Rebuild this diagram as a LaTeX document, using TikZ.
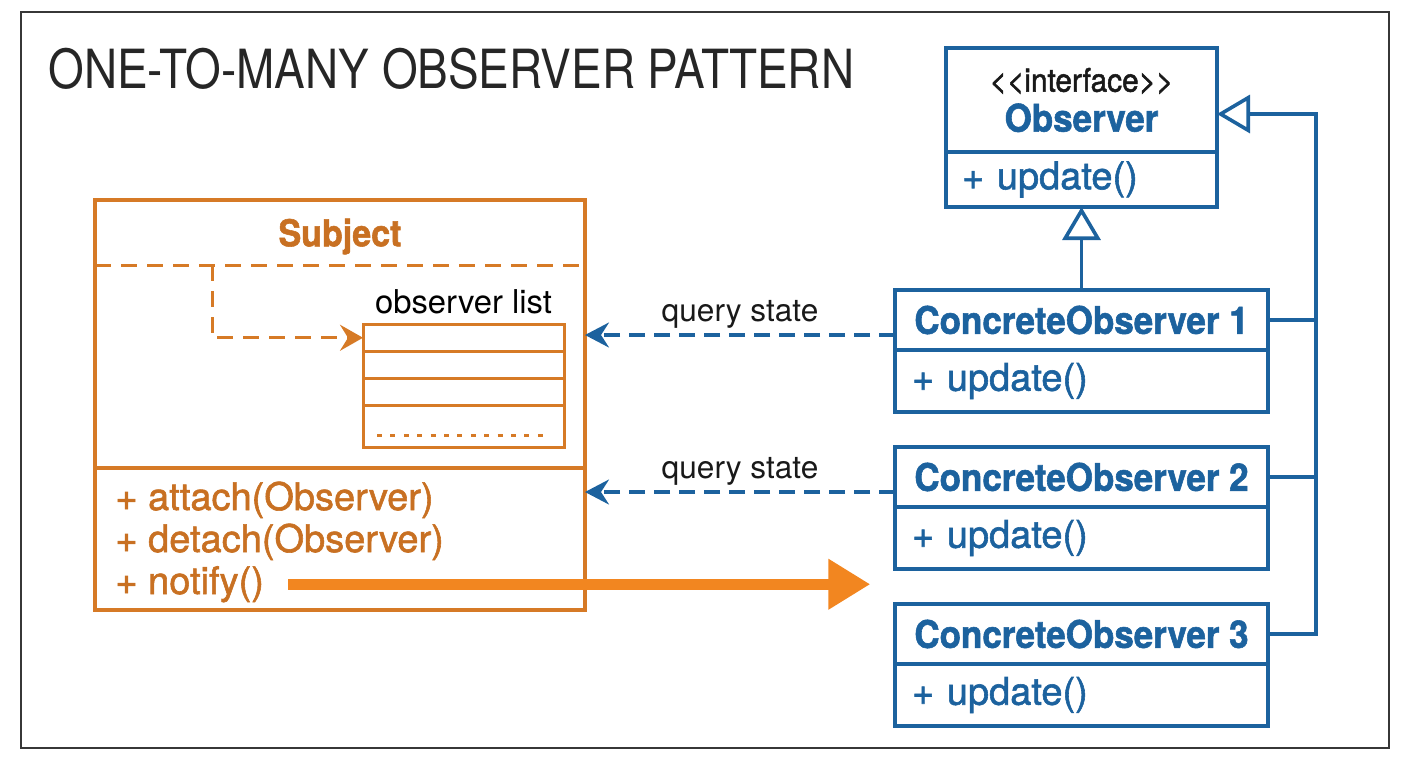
\documentclass[tikz,border=0pt]{standalone}
\usepackage{fontspec}
\setmainfont{TeX Gyre Heros}
\newfontfamily\titlefont{TeX Gyre Heros}[FakeStretch=0.85]
\newfontfamily\namefont{TeX Gyre Heros}[FakeStretch=0.92, FakeBold=1.5]
\newfontfamily\medfont{TeX Gyre Heros}[FakeBold=1.5]
\usepackage{tikz}
\usetikzlibrary{positioning,arrows.meta,calc}
\definecolor{subjorange}{RGB}{214,122,38}
\definecolor{subjtext}{RGB}{200,112,34}
\definecolor{notifyorange}{RGB}{242,134,32}
\definecolor{obsblue}{RGB}{28,98,158}
\definecolor{framegray}{RGB}{55,55,55}
\newcommand{\stereofont}{\mdseries\fontsize{16.2}{20}\selectfont\color{black!90}}
\tikzset{
  frame/.style={draw=framegray, line width=1pt},
  heading/.style={font=\titlefont\fontsize{27}{32}\selectfont, text=black!85, anchor=base west, inner sep=0pt},
  subjpart/.style={rectangle, minimum width=245pt, inner sep=0pt, outer sep=0pt},
  subjname/.style={subjpart, font=\namefont\bfseries\fontsize{18.5}{22}\selectfont, text=subjtext},
  subjline/.style={draw=subjorange, line width=1.8pt},
  subjdash/.style={draw=subjorange, line width=1.5pt, dash pattern=on 8pt off 5pt},
  ptrdash/.style={subjdash, -{Stealth[length=11.5pt,width=13pt,inset=4pt]}},
  method/.style={font=\medfont\fontsize{19}{22}\selectfont, text=subjtext, anchor=base west, inner sep=0pt},
  listrow/.style={draw=subjorange, line width=1.5pt, minimum width=100.5pt, inner sep=0pt, outer sep=0pt},
  listdots/.style={draw=subjorange, line width=1.5pt, dash pattern=on 2.5pt off 4.2pt},
  listlbl/.style={font=\fontsize{16.4}{20}\selectfont, inner sep=0pt},
  classhead/.style={draw=obsblue, line width=1.8pt, minimum width=186.5pt, minimum height=30pt,
                    inner sep=0pt, outer sep=0pt, font=\namefont\bfseries\fontsize{19}{22}\selectfont, text=obsblue},
  classbody/.style={classhead, minimum height=31pt, font=\medfont\fontsize{19}{22}\selectfont,
                    text width=169.5pt, inner xsep=8.5pt, align=left},
  ifhead/.style={classhead, minimum width=135.5pt, minimum height=52pt, align=center,
                 font=\namefont\bfseries\fontsize{19}{20}\selectfont},
  ifbody/.style={classbody, minimum width=135.5pt, minimum height=27.5pt, text width=119.5pt, inner xsep=8pt},
  blueline/.style={draw=obsblue, line width=1.8pt},
  realize/.style={blueline, -{Triangle[open, length=16.5pt, width=19pt]}},
  query/.style={draw=obsblue, line width=1.6pt, dash pattern=on 8pt off 4.5pt,
                -{Stealth[length=12pt,width=12.5pt,inset=4pt]}},
  qlbl/.style={above=2.7pt, font=\fontsize{15.8}{19}\selectfont, text=black!90, inner sep=0pt},
  notifyarrow/.style={draw=notifyorange, line width=5.75pt, -{Triangle[length=21pt,width=24pt]}}
}
\begin{document}
\begin{tikzpicture}[x=0.5pt, y=-0.5pt]
\useasboundingbox (0,0) rectangle (1408,768);
\draw[frame] (21,12) rectangle (1389,748);
\node[heading] (title) at (48,88) {ONE-TO-MANY OBSERVER PATTERN};

% subject class
\node[subjname, minimum height=32.5pt, text depth=0pt] (subjh) at (340,232.5) {Subject};
\node[subjpart, minimum height=101.5pt, below=0pt of subjh] (subja) {};
\node[subjpart, minimum height=71pt, below=0pt of subja] (subjm) {};
\draw[subjline] (subjh.north west) rectangle (subjm.south east);
\draw[subjline] (subjm.north west) -- (subjm.north east);
\draw[subjdash] (subjh.south west) -- (subjh.south east);
\node[method] (m1) at (115,510) {+ attach(Observer)};
\node[method] (m2) at (115,552) {+ detach(Observer)};
\node[method] (m3) at (115,594) {+ notify()};

% observer list
\node[listrow, minimum height=13.75pt] (r1) at (463.5,337.75) {};
\node[listrow, minimum height=13.5pt, below=0pt of r1] (r2) {};
\node[listrow, minimum height=13.25pt, below=0pt of r2] (r3) {};
\node[listrow, minimum height=21pt, below=0pt of r3] (r4) {};
\node[listlbl, above=5pt of r1] (listname) {observer list};
\draw[listdots] ([shift={(7pt,-4.5pt)}]r4.west) -- ([shift={(-7pt,-4.5pt)}]r4.east);
\coordinate (tap) at (212,265);
\draw[ptrdash] (tap) |- (r1.west);

% observer interface
\node[ifhead] (obs) at (1081.5,100) {{\stereofont <{}<interface>{}>}\\Observer};
\node[ifbody, below=0pt of obs] (obsm) {+ update()};

% concrete observers
\node[classhead] (co1) at (1081.5,320) {ConcreteObserver 1};
\node[classbody, below=0pt of co1] (co1m) {+ update()};
\node[classhead] (co2) at (1081.5,477) {ConcreteObserver 2};
\node[classbody, below=0pt of co2] (co2m) {+ update()};
\node[classhead] (co3) at (1081.5,634) {ConcreteObserver 3};
\node[classbody, below=0pt of co3] (co3m) {+ update()};

% realization
\coordinate (bus) at (1316,0);
\coordinate (ojoin) at ([yshift=-7pt]obs.east);
\draw[realize] (co1.north) -- (obsm.south);
\draw[realize] (co3.east) -| (bus |- ojoin) -- (ojoin);
\draw[blueline] (co1.east) -- (co1.east -| bus);
\draw[blueline] (co2.east) -- (co2.east -| bus);

% query state
\coordinate (q1) at ([yshift=-7.5pt]co1.west);
\coordinate (q2) at ([yshift=-7.5pt]co2.west);
\draw[query] (q1) -- node[qlbl] {query state} (q1 -| subja.east);
\draw[query] (q2) -- node[qlbl] {query state} (q2 -| subja.east);

% notify
\coordinate[right=303pt of m3.east] (ntip);
\draw[notifyarrow] ([xshift=12pt]m3.east) -- (ntip);
\end{tikzpicture}
\end{document}
